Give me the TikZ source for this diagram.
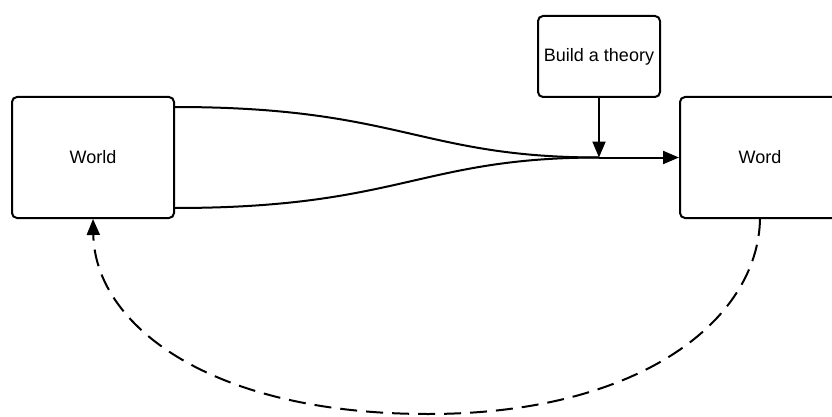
\documentclass[tikz,border=0pt]{standalone}
\usepackage{fontspec}
\setmainfont{Liberation Sans}
\usetikzlibrary{arrows.meta}
\begin{document}
\begin{tikzpicture}[x=1pt,y=-1pt,
  box/.style={draw=black,line width=2pt,rounded corners=5pt,fill=white,
    font=\fontsize{18}{21}\selectfont,inner sep=0pt},
  link/.style={line width=2pt,-{Triangle[length=16pt,width=13pt]}},
  back/.style={link,dash pattern=on 17pt off 9pt}]
\useasboundingbox (0,0) rectangle (832,417);
\clip (0,0) rectangle (832,417);
% boxes
\node[box,minimum width=162pt,minimum height=121pt] (world) at (93,157.5) {World};
\node[box,minimum width=160pt,minimum height=121pt] (word) at (760,157.5) {Word};
\node[box,minimum width=122pt,minimum height=81pt] (theory) at (599,56.5) {Build a theory};
% merge point of the two strands
\coordinate (merge) at (599,157.5);
% two strands from World converging into one arrow to Word
\draw[line width=2pt] ([yshift=50.5pt]world.east) .. controls (400,107) and (420,157.5) .. (merge);
\draw[line width=2pt] ([yshift=-50.5pt]world.east) .. controls (400,208) and (420,157.5) .. (merge);
\draw[link] (merge) -- (word.west);
\draw[link] (theory.south) -- (merge);
% dashed feedback loop from Word back to World
\coordinate (low) at (428,414);
\draw[back] (word.south) .. controls (758,320) and (640,414) .. (low)
  .. controls (210,414) and (95,325) .. (world.south);
\end{tikzpicture}
\end{document}
